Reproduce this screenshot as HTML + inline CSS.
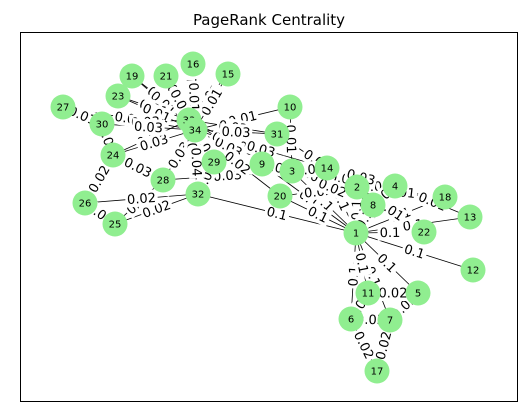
<!DOCTYPE html>
<html><head><meta charset="utf-8"><style>
html,body{margin:0;padding:0;background:#fff;}
svg{display:block;font-family:"DejaVu Sans","Liberation Sans",sans-serif;}
</style></head><body>
<svg id="s" width="527" height="413" xmlns="http://www.w3.org/2000/svg">
<rect x="0" y="0" width="527" height="413" fill="#fff"/>
<text x="269" y="25" font-size="15" text-anchor="middle" fill="#000">PageRank Centrality</text>
<rect x="20.5" y="32.5" width="497" height="369" fill="none" stroke="#000" stroke-width="1"/>
<g id="e"></g><g id="l"></g><g id="n"></g>
</svg>
<script>
var P={1:[356,233],2:[357,187],3:[292,171],4:[395,186],5:[418,293],6:[351,319],7:[390,320],8:[373,205],9:[262,164],10:[290,107],11:[368,293],12:[473,270],13:[470,217],14:[327,168],15:[228,74],16:[193,64],17:[377,371],18:[445,197],19:[132,76],20:[280,196],21:[166,76],22:[424,232],23:[118,96],24:[113,155],25:[115,224],26:[85,203],27:[63,107],28:[163,180],29:[214,162],30:[102,124],31:[277,134],32:[198,194],33:[189,120],34:[195,130]};
var PR={1:.097,2:.053,3:.057,4:.036,5:.022,6:.029,7:.029,8:.024,9:.030,10:.014,11:.022,12:.010,13:.015,14:.030,15:.015,16:.015,17:.017,18:.015,19:.015,20:.020,21:.015,22:.015,23:.015,24:.032,25:.021,26:.021,27:.015,28:.026,29:.020,30:.026,31:.025,32:.037,33:.072,34:.101};
var A={1:[2,3,4,5,6,7,8,9,11,12,13,14,18,20,22,32],2:[3,4,8,14,18,20,22,31],3:[4,8,9,10,14,28,29,33],4:[8,13,14],5:[7,11],6:[7,11,17],7:[17],9:[31,33,34],10:[34],14:[34],15:[33,34],16:[33,34],19:[33,34],20:[34],21:[33,34],23:[33,34],24:[26,28,30,33,34],25:[26,28,32],26:[32],27:[30,34],28:[34],29:[32,34],30:[33,34],31:[33,34],32:[33,34],33:[34]};
var NS="http://www.w3.org/2000/svg";
function el(t,a,p){var e=document.createElementNS(NS,t);for(var k in a)e.setAttribute(k,a[k]);p.appendChild(e);return e;}
var E=document.getElementById('e'),L=document.getElementById('l'),N=document.getElementById('n');
for(var a in A){A[a].forEach(function(b){
 var p=P[a],q=P[b];
 el('line',{x1:p[0],y1:p[1],x2:q[0],y2:q[1],stroke:'#000','stroke-width':0.8},E);
 var v=Math.min(PR[a],PR[b]);if(a==1||b==1)v=0.1;
 var s=v>=0.095?'0.1':v.toFixed(2);
 var ang=Math.atan2(q[1]-p[1],q[0]-p[0])*180/Math.PI;
 if(ang>90)ang-=180;if(ang<-90)ang+=180;
 var mx=(p[0]+q[0])/2,my=(p[1]+q[1])/2;
 var g=el('g',{transform:'translate('+mx+','+my+') rotate('+ang+')'},L);
 var w=s.length*7.6+2;
 el('rect',{x:-w/2,y:-8,width:w,height:16,fill:'#fff'},g);
 var t=el('text',{x:0,y:4.5,'font-size':13,'text-anchor':'middle',fill:'#000'},g);t.textContent=s;
});}
for(var k in P){var p=P[k];
 el('circle',{cx:p[0],cy:p[1],r:12.5,fill:'#90ee90'},N);
 var t=el('text',{x:p[0],y:p[1]+3.5,'font-size':10,'text-anchor':'middle',fill:'#000'},N);t.textContent=k;}
</script>
</body></html>
